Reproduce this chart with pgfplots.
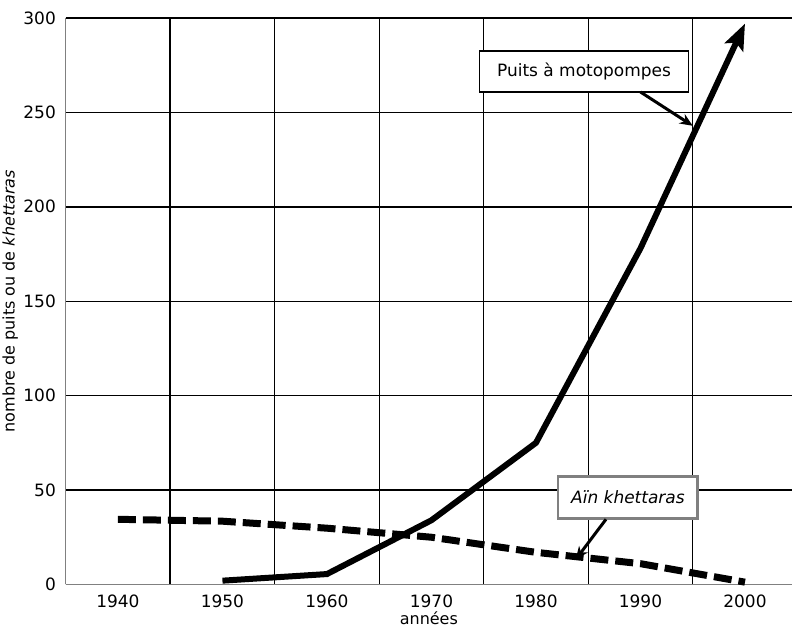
\documentclass[border=0pt]{standalone}
\usepackage{fontspec}
\setmainfont{DejaVu Sans}
\usepackage{pgfplots}
\pgfplotsset{compat=1.18}
\usetikzlibrary{arrows.meta}
\begin{document}
\fontsize{17bp}{20bp}\selectfont
\begin{tikzpicture}
\begin{axis}[
    scale only axis,
    width=727bp, height=567bp,
    xmin=1935, xmax=2004.5,
    ymin=0, ymax=300,
    axis x line=bottom, axis y line=left,
    axis line style={-, draw=gray, line width=1.5bp},
    xtick={1940,1950,...,2000},
    xticklabels={1940,\raisebox{-3bp}{1950},1960,\raisebox{4bp}{1970},\raisebox{3bp}{1980},\raisebox{-3bp}{1990},\raisebox{-1bp}{2000}},
    minor xtick={1945,1955,...,1995},
    ytick={0,50,...,300},
    major tick length=0pt, minor tick length=0pt,
    xmajorgrids=false, xminorgrids=true, ymajorgrids=true,
    grid style={draw=black, line width=1.4bp},
    minor grid style={draw=black, line width=1.4bp},
    /pgf/number format/assume math mode=true,
    /pgf/number format/1000 sep={},
    tick label style={font=\fontsize{17bp}{20bp}\selectfont},
    xticklabel style={yshift=-5bp},
    yticklabel style={xshift=-4bp},
    xlabel={années},
    xlabel style={font=\fontsize{16bp}{18bp}\selectfont, inner sep=0pt, yshift=6.5bp},
    ylabel={nombre de puits ou de \textit{khettaras}},
    ylabel style={font=\fontsize{16bp}{18bp}\selectfont, yshift=-6bp},
    clip=false,
]
% Puits à motopompes
\addplot[black, line width=6bp, line join=miter, -{Stealth[length=26bp, width=20bp, inset=5bp]}]
  coordinates {(1950,2) (1960,5.5) (1970,34) (1980,75) (1990,178) (2000,297)};
% Aïn khettaras
\addplot[black, line width=7bp, dash pattern=on 18bp off 7bp, line cap=butt]
  coordinates {(1940,34.5) (1950,33.5) (1960,29.8) (1970,25) (1980,17) (1990,11) (2000,1.2)};

\node[draw=black, line width=1.6bp, fill=white, minimum width=209bp, minimum height=41bp, inner sep=0pt]
  at (axis cs:1984.6,271.7) {Puits à motopompes};
\draw[black, line width=3bp, -{Stealth[length=13bp, width=11bp]}] (axis cs:1990.0,260.8) -- (axis cs:1995.0,242.9);

\node[draw=gray, line width=3bp, fill=white, minimum width=140bp, minimum height=42bp, inner sep=0pt]
  at (axis cs:1988.8,46.0) {\textit{Aïn khettaras}};
\draw[black, line width=3bp, -{Stealth[length=13bp, width=11bp]}] (axis cs:1986.7,34.5) -- (axis cs:1983.8,13.2);

\coordinate (bl) at (rel axis cs:0,0);
\coordinate (tr) at (rel axis cs:1,1);
\end{axis}
\pgfresetboundingbox
\path ([shift={(-65.75bp,-44bp)}]bl) rectangle ([shift={(0bp,18bp)}]tr);
\end{tikzpicture}
\end{document}
